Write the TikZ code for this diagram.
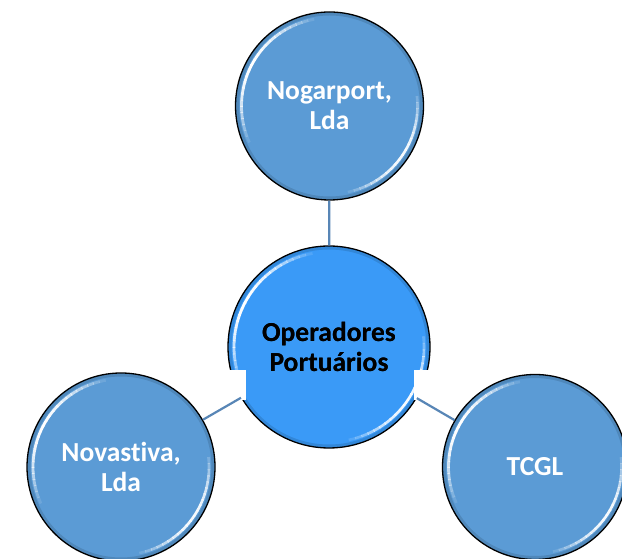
\documentclass[tikz,border=0pt]{standalone}
\usepackage{fontspec}
\setmainfont{Carlito}[Ligatures={NoCommon}]
\definecolor{outerblue}{RGB}{91,155,213}
\definecolor{innerblue}{RGB}{58,154,247}
\definecolor{linkblue}{RGB}{88,134,182}
\tikzset{
  bubble/.style={circle, draw=black, line width=1.3pt, inner sep=0pt, align=center,
    font=\fontsize{27.5}{30}\selectfont\bfseries},
  outerbubble/.style={bubble, fill=outerblue, text=white},
  innerbubble/.style={bubble, fill=innerblue, text=black},
  link/.style={draw=linkblue, line width=2.2pt},
  artifact/.style={fill=white, draw=none}
}
\newcommand{\gloss}[2]{% center name, radius
  \foreach \a in {96,100,...,200}{
    \pgfmathsetmacro{\op}{sin((\a-96)/108*180)}
    \draw[white, line width=2.8pt, opacity=\op] ($(#1)+(\a:#2-6)$) arc[start angle=\a, end angle=\a+4.5, radius=#2-6];
  }
  \foreach \a in {-82,-78,...,4}{
    \pgfmathsetmacro{\op}{0.95*sin((\a+82)/90*180)}
    \draw[white, line width=2.6pt, opacity=\op] ($(#1)+(\a:#2-6)$) arc[start angle=\a, end angle=\a+4.5, radius=#2-6];
  }
  \draw[black, opacity=0.12, line width=3pt] (#1) circle[radius=#2-2];
}
\usetikzlibrary{calc}
\begin{document}
\begin{tikzpicture}[x=1pt,y=1pt]
\useasboundingbox (0,0) rectangle (622,559);
\fill[white] (0,0) rectangle (622,559);
\begin{scope}
\clip (0,0) rectangle (622,559);
\node[innerbubble, minimum size=202pt] (c) at (329,212) {Operadores\\Portuários};
\node[outerbubble, minimum size=188pt] (n) at (329.5,453) {Nogarport,\\Lda};
\node[outerbubble, minimum size=188pt] (v) at (121,92) {Novastiva,\\Lda};
\node[outerbubble, minimum size=185pt] (t) at (535,92) {TCGL};
\gloss{c}{101}
\gloss{n}{94}
\gloss{v}{94}
\gloss{t}{92.5}
\node[innerbubble, draw=none, fill=none] at (c) {Operadores\\Portuários};
\fill[artifact] (224,159) rectangle (245.5,188.5);
\fill[artifact] (413.5,159) rectangle (434,188.5);
\draw[link] (c) -- (n);
\draw[link] (c) -- (v);
\draw[link] (c) -- (t);
\end{scope}
\end{tikzpicture}
\end{document}
